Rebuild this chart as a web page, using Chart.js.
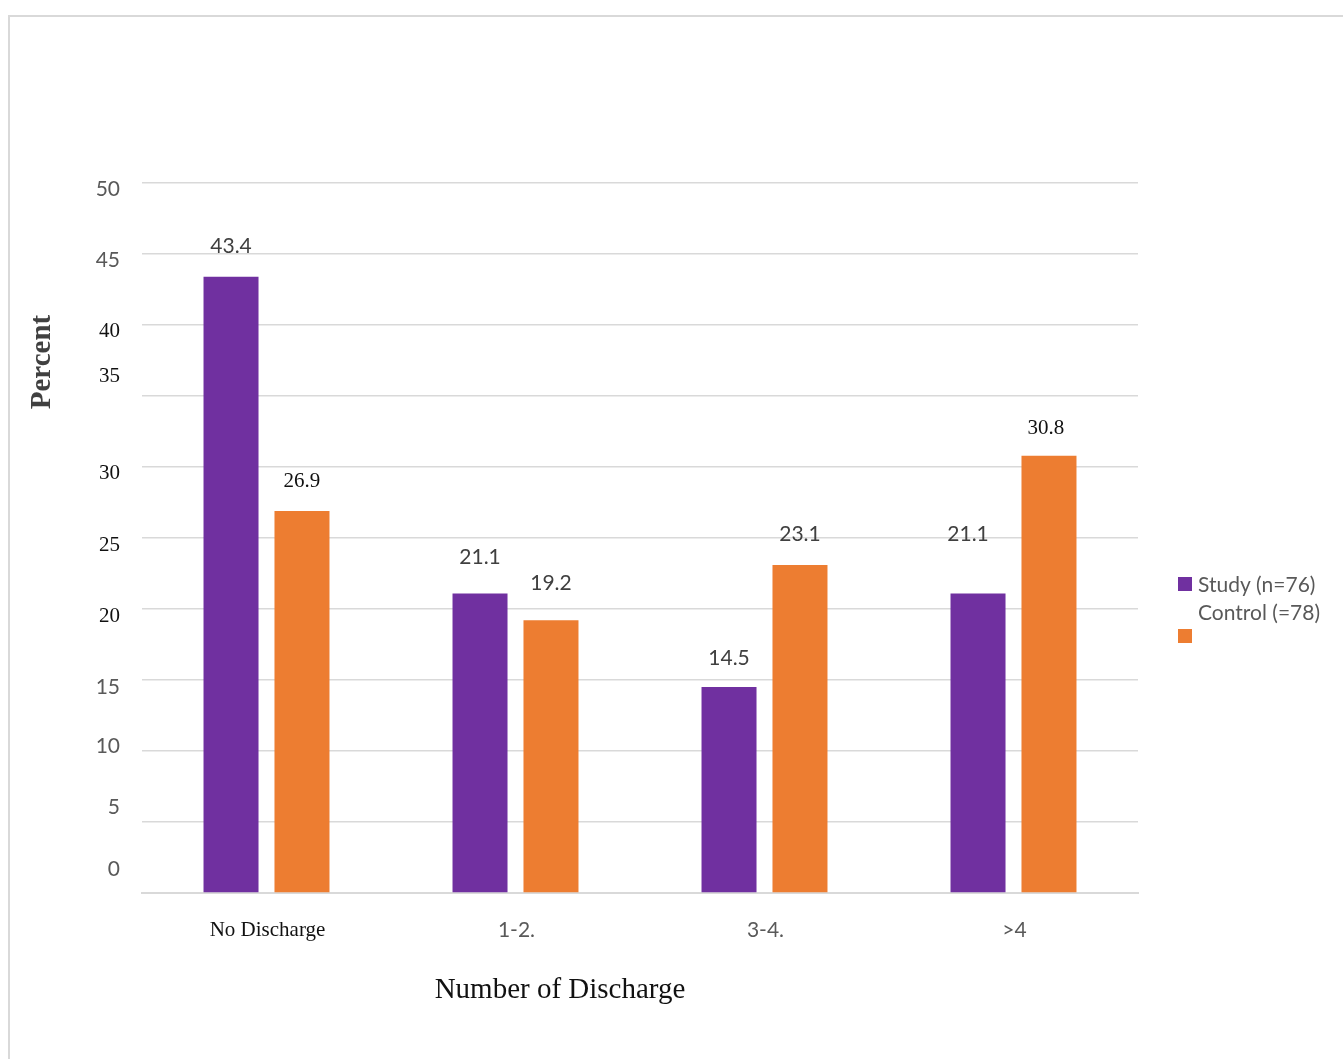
<!DOCTYPE html>
<html>
<head>
<meta charset="utf-8">
<script src="https://cdn.jsdelivr.net/npm/chart.js@4.4.1/dist/chart.umd.min.js"></script>
<style>
html,body{margin:0;padding:0;background:#fff;}
#wrap{position:relative;width:1343px;height:1059px;overflow:hidden;}
#frame{position:absolute;left:8px;top:15px;width:1400px;height:1100px;border:2px solid #d9d9d9;box-sizing:border-box;pointer-events:none;}
canvas{position:absolute;left:0;top:0;}
</style>
</head>
<body>
<div id="wrap">
<div id="frame"></div>
<canvas id="c" width="1343" height="1059"></canvas>
</div>
<script>
// ---- data ----
const categories = ['No Discharge', '1-2.', '3-4.', '>4'];
const studyValues = [43.4, 21.1, 14.5, 21.1];
const controlValues = [26.9, 19.2, 23.1, 30.8];
const seriesNames = ['Study (n=76)', 'Control (=78)'];
const yTickValues = [0, 5, 10, 15, 20, 25, 30, 35, 40, 45, 50];
const yTickLabels = ['0', '5', '10', '15', '20', '25', '30', '35', '40', '45', '50'];
const yAxisTitle = 'Percent';
const xAxisTitle = 'Number of Discharge';

// ---- styles ----
const SANS = 'Lato, "Open Sans", sans-serif';
const SERIF = '"Liberation Serif", "DejaVu Serif", serif';
const PURPLE = '#7030A0';
const ORANGE = '#ED7D31';
const GRID = '#d9d9d9';
const yTickStyle = ['sans','sans','sans','sans','serif','serif','serif','serif','serif','sans','sans'];
const yTickShift = [-24, -15, -5, 7, 7, 7, 6, -20, 6, 6, 6];
const xTickStyle = ['serif','sans','sans','sans'];
const labelStyle = [['sans','sans','sans','sans'], ['serif','sans','sans','serif']];
const labelRise = [[30, 36, 29, 59], [30, 37, 31, 27]];
const labelShiftX = [[0, 0, 0, -10], [0, 0, 0, -3]];

function fontOf(style, size) {
  return style === 'serif' ? (size + 1) + 'px ' + SERIF : (size + 1) + 'px ' + SANS;
}
function colorOf(style) { return style === 'serif' ? '#111111' : '#595959'; }

const customText = {
  id: 'customText',
  afterDatasetsDraw(chart) {
    const ctx = chart.ctx;
    const y = chart.scales.y, x = chart.scales.x;
    ctx.save();
    // y tick labels
    ctx.textAlign = 'right';
    ctx.textBaseline = 'middle';
    yTickValues.forEach((v, i) => {
      ctx.font = fontOf(yTickStyle[i], 20);
      ctx.fillStyle = colorOf(yTickStyle[i]);
      ctx.fillText(yTickLabels[i], 120, y.getPixelForValue(v) + yTickShift[i]);
    });
    // x tick labels
    ctx.textAlign = 'center';
    categories.forEach((c, i) => {
      ctx.font = fontOf(xTickStyle[i], 20);
      ctx.fillStyle = colorOf(xTickStyle[i]);
      ctx.fillText(c, x.getPixelForValue(i) + 1, 930);
    });
    // data labels
    chart.data.datasets.forEach((ds, di) => {
      const meta = chart.getDatasetMeta(di);
      meta.data.forEach((bar, i) => {
        const st = labelStyle[di][i];
        ctx.font = fontOf(st, 20);
        ctx.fillStyle = st === 'serif' ? '#111111' : '#404040';
        ctx.fillText(ds.data[i].toFixed(1), bar.x + labelShiftX[di][i], bar.y - labelRise[di][i]);
      });
    });
    // axis titles
    ctx.font = '29px ' + SERIF;
    ctx.fillStyle = '#111111';
    ctx.fillText(xAxisTitle, 560, 990);
    ctx.save();
    ctx.translate(43, 362);
    ctx.rotate(-Math.PI / 2);
    ctx.font = 'bold 29px ' + SERIF;
    ctx.fillStyle = '#404040';
    ctx.fillText(yAxisTitle, 0, 0);
    ctx.restore();
    // legend
    ctx.textAlign = 'left';
    ctx.font = '21px ' + SANS;
    ctx.fillStyle = PURPLE;
    ctx.fillRect(1178, 577, 14, 14);
    ctx.fillStyle = ORANGE;
    ctx.fillRect(1178, 629, 14, 14);
    ctx.fillStyle = '#595959';
    ctx.fillText(seriesNames[0], 1198, 585);
    ctx.fillText(seriesNames[1], 1198, 613);
    ctx.restore();
  }
};

new Chart(document.getElementById('c'), {
  type: 'bar',
  data: {
    labels: categories,
    datasets: [
      { label: seriesNames[0], data: studyValues, backgroundColor: PURPLE },
      { label: seriesNames[1], data: controlValues, backgroundColor: ORANGE }
    ]
  },
  options: {
    responsive: false,
    animation: false,
    devicePixelRatio: 1,
    layout: { padding: { left: 142, right: 205, top: 183, bottom: 166 } },
    datasets: { bar: { categoryPercentage: 0.570, barPercentage: 0.775 } },
    plugins: { legend: { display: false }, tooltip: { enabled: false } },
    scales: {
      x: {
        grid: { display: false, drawTicks: false },
        border: { display: true, color: GRID, width: 2 },
        ticks: { display: false }
      },
      y: {
        min: 0, max: 50,
        afterBuildTicks(scale) { scale.ticks = yTickValues.map(v => ({ value: v })); },
        grid: { color: GRID, lineWidth: 1.5, drawTicks: false },
        border: { display: false },
        ticks: { display: false }
      }
    }
  },
  plugins: [customText]
});
</script>
</body>
</html>
